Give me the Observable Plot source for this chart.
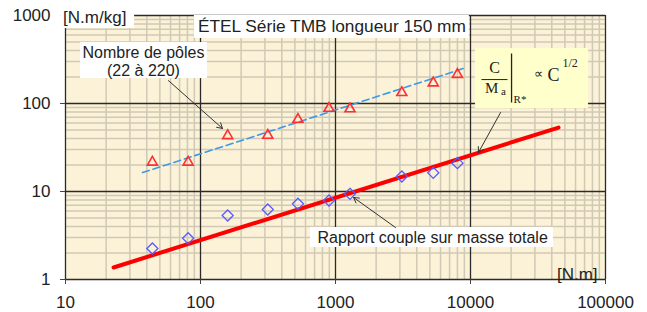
<!DOCTYPE html>
<html>
<head>
<meta charset="utf-8">
<script src="https://cdn.jsdelivr.net/npm/d3@7"></script>
<script src="https://cdn.jsdelivr.net/npm/@observablehq/plot@0.6"></script>
<style>
  html, body { margin: 0; padding: 0; background: #ffffff; }
  #chart { width: 647px; height: 312px; }
</style>
</head>
<body>
<div id="chart"></div>
<script>
// ---- Data ----
const xTicks = [10, 100, 1000, 10000, 100000];
const yTicks = [1, 10, 100, 1000];
const torque = [44, 81, 159, 315, 527, 895, 1280, 3100, 5300, 8000];          // [N.m]
const polesRatio = [21.5, 21.5, 43, 43.5, 66, 88, 87, 133, 171, 214];       // triangles
const massRatio = [2.25, 2.94, 5.34, 6.24, 7.24, 7.9, 9.4, 14.8, 16.3, 21];  // diamonds
const fitRedX = [22.7, 44900];
const fitRedY = [1.37, 53.3];
const fitBlueX = [37.2, 8870];
const fitBlueY = [16.4, 250];

// annotation anchors (data coordinates)
const titleText = "ÉTEL Série TMB longueur 150 mm";
const titleBox = {x1: 90, x2: 9800, y1: 1000, y2: 548};
const titlePos = {x: 940, y: 755};
const yUnitText = "[N.m/kg]";
const yUnitBox = {x1: 9.2, x2: 32.5, y1: 1300, y2: 711};
const yUnitPos = {x: 9.6, y: 955};
const xUnitText = "[N.m]";
const xUnitPos = {x: 87300, y: 1.15};
const polesLines = ["Nombre de pôles", "(22 à 220)"];
const polesBox = {x1: 12.9, x2: 112.7, y1: 493, y2: 192};
const polesPos = {x: 37.8, y: [380, 237]};
const polesArrow = {x1: 57.9, y1: 182, x2: 145.5, y2: 52};
const rapportText = "Rapport couple sur masse totale";
const rapportBox = {x1: 653, x2: 41200, y1: 3.9, y2: 2.31};
const rapportPos = {x: 5240, y: 3.0};
const rapportArrow = {x1: 2780, y1: 3.9, x2: 1360, y2: 8.55};
const formulaBox = {x1: 10900, x2: 74800, y1: 422, y2: 87.7};
const formulaArrow = {x1: 16700, y1: 79, x2: 11450, y2: 27.7};
const formulaParts = [
  {x: 15060, y: 256, t: "C", size: 16, anchor: "middle"},
  {x: 14320, y: 148, t: "M", size: 15, anchor: "middle"},
  {x: 17550, y: 137, t: "a", size: 11, anchor: "middle"},
  {x: 20850, y: 111, t: "R*", size: 11, anchor: "start"},
  {x: 31900, y: 219, t: "∝", size: 13, anchor: "middle"},
  {x: 41200, y: 208, t: "C", size: 18, anchor: "middle"},
  {x: 48000, y: 285, t: "1/2", size: 12, anchor: "start"}
];
const fracBar = {x1: 12050, x2: 18800, y: 187};
const vertBar = {x: 20140, y1: 370, y2: 102.6};

// ---- Grid line positions (log decades) ----
const minorX = [], minorY = [];
for (let d = 10; d < 100000; d *= 10) for (let k = 2; k <= 9; k++) minorX.push(d * k);
for (let d = 1; d < 1000; d *= 10) for (let k = 2; k <= 9; k++) minorY.push(d * k);

const points = torque.map((t, i) => ({t, p: polesRatio[i], m: massRatio[i]}));
const red = fitRedX.map((x, i) => ({x, y: fitRedY[i]}));
const blue = fitBlueX.map((x, i) => ({x, y: fitBlueY[i]}));

const sans = "Liberation Sans, Arial, sans-serif";
const serif = "Liberation Serif, Times New Roman, serif";
const box = (b, fill) => Plot.rect([b], {x1: "x1", x2: "x2", y1: "y1", y2: "y2", fill, clip: false});

const chart = Plot.plot({
  width: 647,
  height: 312,
  marginLeft: 65,
  marginRight: 42,
  marginTop: 15,
  marginBottom: 33,
  style: {fontFamily: sans, fontSize: "17px", background: "#ffffff", color: "#222"},
  x: {type: "log", domain: [10, 100000]},
  y: {type: "log", domain: [1, 1000]},
  marks: [
    Plot.frame({fill: "#fbf2d7", stroke: "#c9c9c9"}),
    Plot.ruleX(minorX, {stroke: "#d0c9b6", strokeWidth: 1.5}),
    Plot.ruleY(minorY, {stroke: "#d0c9b6", strokeWidth: 1.5}),
    Plot.ruleX(xTicks, {stroke: "#2a2a2a", strokeWidth: 1.3}),
    Plot.ruleY(yTicks, {stroke: "#2a2a2a", strokeWidth: 1.3}),
    Plot.axisX(xTicks, {tickFormat: d => String(d), tickSize: 5, tickPadding: 11, stroke: "#444", fontSize: 17}),
    Plot.axisY(yTicks, {tickFormat: d => String(d), tickSize: 5, tickPadding: 10, stroke: "#444", fontSize: 17}),
    Plot.line(blue, {x: "x", y: "y", stroke: "#3b98ec", strokeWidth: 1.6, strokeDasharray: "7,4"}),
    Plot.line(red, {x: "x", y: "y", stroke: "#ff0000", strokeWidth: 4}),
    Plot.dot(points, {x: "t", y: "p", symbol: "triangle2", r: 4.8, stroke: "#ff3030", strokeWidth: 1.6, fill: "none"}),
    Plot.dot(points, {x: "t", y: "m", symbol: "diamond2", r: 5, stroke: "#5a5aff", strokeWidth: 1.3, fill: "none"}),
    box(titleBox, "#ffffff"),
    box(yUnitBox, "#ffffff"),
    box(polesBox, "#ffffff"),
    box(rapportBox, "#ffffff"),
    box(formulaBox, "#ffffcc"),
    Plot.text([titlePos], {x: "x", y: "y", text: () => titleText, fontSize: 17.3, fontFamily: sans, fill: "#222", clip: false}),
    Plot.text([yUnitPos], {x: "x", y: "y", text: () => yUnitText, fontSize: 17, fontFamily: sans, fill: "#222", textAnchor: "start", clip: false}),
    Plot.text([xUnitPos], {x: "x", y: "y", text: () => xUnitText, fontSize: 17, fontFamily: sans, fill: "#222", textAnchor: "end"}),
    Plot.text(polesLines, {x: () => polesPos.x, y: (d, i) => polesPos.y[i], text: d => d, fontSize: 16, fontFamily: sans, fill: "#222"}),
    Plot.text([rapportPos], {x: "x", y: "y", text: () => rapportText, fontSize: 16, fontFamily: sans, fill: "#222"}),
    Plot.text(formulaParts, {x: "x", y: "y", text: "t", fontSize: d => d.size, textAnchor: "start", fontFamily: serif, fill: "#222", filter: d => d.anchor === "start"}),
    Plot.text(formulaParts, {x: "x", y: "y", text: "t", fontSize: d => d.size, fontFamily: serif, fill: "#222", filter: d => d.anchor === "middle"}),
    Plot.link([fracBar], {x1: "x1", x2: "x2", y1: "y", y2: "y", stroke: "#222", strokeWidth: 1}),
    Plot.link([vertBar], {x1: "x", x2: "x", y1: "y1", y2: "y2", stroke: "#222", strokeWidth: 1.3}),
    Plot.arrow([polesArrow], {x1: "x1", y1: "y1", x2: "x2", y2: "y2", stroke: "#333", strokeWidth: 1, headLength: 9}),
    Plot.arrow([rapportArrow], {x1: "x1", y1: "y1", x2: "x2", y2: "y2", stroke: "#333", strokeWidth: 1, headLength: 9}),
    Plot.arrow([formulaArrow], {x1: "x1", y1: "y1", x2: "x2", y2: "y2", stroke: "#333", strokeWidth: 1, headLength: 9})
  ]
});
document.getElementById("chart").appendChild(chart);
</script>
</body>
</html>
